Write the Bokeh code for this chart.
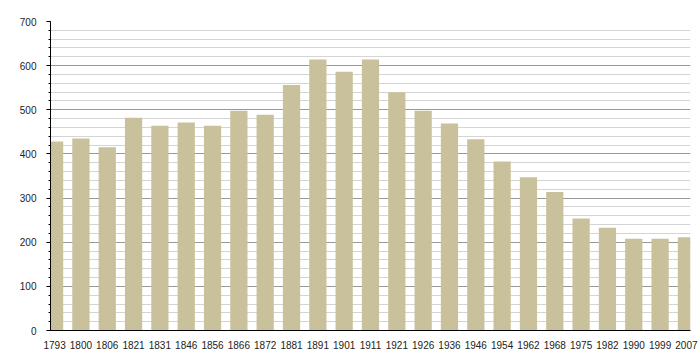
from bokeh.plotting import figure
from bokeh.models import FactorRange, Range1d, SingleIntervalTicker, ColumnDataSource
from bokeh.embed import file_html
from bokeh.resources import INLINE

years = ["1793", "1800", "1806", "1821", "1831", "1846", "1856", "1866", "1872", "1881",
         "1891", "1901", "1911", "1921", "1926", "1936", "1946", "1954", "1962", "1968",
         "1975", "1982", "1990", "1999", "2007"]
population = [428, 435, 415, 482, 464, 471, 464, 498, 489, 556,
              614, 586, 614, 540, 498, 469, 433, 383, 347, 314,
              254, 233, 208, 208, 211]
y_ticks_interval = 100

src = ColumnDataSource(dict(x=years, top=population))

p = figure(x_range=FactorRange(*years, range_padding=-0.345, range_padding_units="absolute"),
           y_range=Range1d(0, 700),
           width=700, height=352, frame_width=640, frame_height=309,
           min_border_left=50, min_border_top=21, min_border_right=10, min_border_bottom=22,
           output_backend="svg", toolbar_location=None)

p.vbar(x="x", top="top", width=0.655, source=src, fill_color="#C9C19B", line_color=None)

p.outline_line_color = None
p.xgrid.grid_line_color = None
ticker = SingleIntervalTicker(interval=y_ticks_interval, num_minor_ticks=5)
p.yaxis.ticker = ticker
p.ygrid.ticker = ticker
p.ygrid.grid_line_color = "#999999"
p.ygrid.minor_grid_line_color = "#D4D4D4"
p.ygrid.level = "underlay"

for ax in (p.xaxis, p.yaxis):
    ax.axis_line_color = "#000000"
    ax.axis_line_width = 1
    ax.major_label_text_font = "Liberation Sans"
    ax.major_label_text_font_size = "10px"
    ax.major_label_text_color = "#222222"

p.xaxis.major_tick_line_color = None
p.xaxis.minor_tick_line_color = None
p.xaxis.major_label_standoff = 4
p.yaxis.major_tick_out = 4
p.yaxis.major_tick_in = 0
p.yaxis.minor_tick_out = 2
p.yaxis.minor_tick_in = 0
p.yaxis.major_tick_line_color = "#000000"
p.yaxis.minor_tick_line_color = "#000000"
p.yaxis.major_label_standoff = 10

open("out.html", "w").write(file_html(p, INLINE))
